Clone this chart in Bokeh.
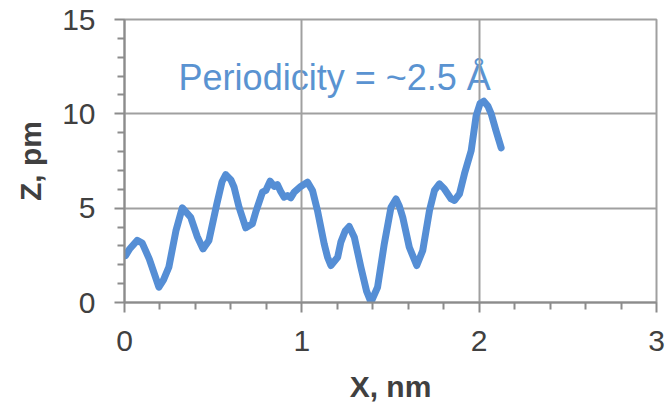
from bokeh.plotting import figure
from bokeh.models import FixedTicker, Range1d, ColumnDataSource
from bokeh.core.properties import value
from bokeh.embed import file_html
from bokeh.resources import INLINE

# Height profile along the scan line
x_nm = [0.006, 0.03, 0.072, 0.10, 0.14, 0.194, 0.22, 0.25, 0.29, 0.326,
        0.373, 0.41, 0.443, 0.476, 0.52, 0.55, 0.571, 0.60, 0.618, 0.646,
        0.684, 0.721, 0.740, 0.778, 0.797, 0.821, 0.844, 0.862, 0.880, 0.900,
        0.919, 0.938, 0.957, 0.994, 1.032, 1.06, 1.088, 1.126, 1.145, 1.164,
        1.202, 1.220, 1.245, 1.267, 1.296, 1.333, 1.365, 1.390, 1.427, 1.465,
        1.503, 1.531, 1.550, 1.569, 1.606, 1.648, 1.682, 1.720, 1.748, 1.776,
        1.804, 1.842, 1.861, 1.889, 1.917, 1.955, 1.983, 2.005, 2.026, 2.050,
        2.068, 2.095, 2.124]
z_pm = [2.49, 2.85, 3.29, 3.15, 2.3, 0.81, 1.2, 1.87, 3.8, 5.02,
        4.52, 3.5, 2.84, 3.29, 5.2, 6.4, 6.78, 6.5, 6.11, 5.05,
        3.96, 4.17, 4.79, 5.85, 5.94, 6.43, 6.15, 6.25, 5.9, 5.58,
        5.67, 5.55, 5.85, 6.15, 6.38, 5.94, 4.88, 3.11, 2.4, 1.96,
        2.40, 3.2, 3.8, 4.03, 3.46, 1.87, 0.6, 0.02, 0.81, 3.11,
        5.05, 5.49, 5.1, 4.52, 2.93, 1.96, 2.76, 4.88, 5.94, 6.29,
        6.02, 5.49, 5.41, 5.76, 6.82, 8.05, 9.9, 10.55, 10.67, 10.4,
        10.0, 9.1, 8.2]

x_ticks = [0, 1, 2, 3]
x_minor = [0.2, 0.4, 0.6, 0.8, 1.2, 1.4, 1.6, 1.8, 2.2, 2.4, 2.6, 2.8]
y_ticks = [0, 5, 10, 15]
y_minor = [1, 2, 3, 4, 6, 7, 8, 9, 11, 12, 13, 14]

note_text = ["Periodicity = ~2.5 Å"]
note_x = [0.305]
note_y = [11.92]

FONT = "Liberation Sans"
GRID = "#a0a0a0"
AXIS = "#8c8c8c"
LABEL = "#404040"

p = figure(width=671, height=405, output_backend="svg", toolbar_location=None,
           x_range=Range1d(0, 3), y_range=Range1d(0, 15),
           min_border_left=124, min_border_right=15,
           min_border_top=19, min_border_bottom=103)
p.background_fill_color = "white"
p.border_fill_color = "white"
p.outline_line_color = GRID
p.outline_line_width = 2

p.xaxis.ticker = FixedTicker(ticks=x_ticks, minor_ticks=x_minor)
p.yaxis.ticker = FixedTicker(ticks=y_ticks, minor_ticks=y_minor)

for ax in (p.xaxis[0], p.yaxis[0]):
    ax.axis_line_color = AXIS
    ax.axis_line_width = 2
    ax.major_tick_line_color = AXIS
    ax.major_tick_line_width = 2
    ax.minor_tick_line_color = AXIS
    ax.minor_tick_line_width = 2
    ax.major_tick_in = 0
    ax.major_tick_out = 10
    ax.minor_tick_in = 0
    ax.minor_tick_out = 7
    ax.major_label_text_font = FONT
    ax.major_label_text_font_size = "30px"
    ax.major_label_text_color = LABEL
    ax.axis_label_text_font = FONT
    ax.axis_label_text_font_size = "30px"
    ax.axis_label_text_font_style = "bold"
    ax.axis_label_text_color = LABEL

p.xaxis.axis_label = "X, nm"
p.yaxis.axis_label = "Z, pm"
p.xaxis.major_label_standoff = 18
p.yaxis.major_label_standoff = 19
p.xaxis.axis_label_standoff = 16
p.yaxis.axis_label_standoff = 12

p.xgrid.ticker = FixedTicker(ticks=x_ticks)
p.ygrid.ticker = FixedTicker(ticks=y_ticks)
for g in (p.xgrid[0], p.ygrid[0]):
    g.grid_line_color = GRID
    g.grid_line_width = 2

# Annotation sits beneath the grid lines
note_src = ColumnDataSource(dict(x=note_x, y=note_y, text=note_text))
note = p.text(x="x", y="y", text="text", source=note_src,
              text_font=value(FONT), text_font_size="36px",
              text_color="#5a93d1", text_align="left",
              text_baseline="alphabetic")
note.level = "image"

p.line(x_nm, z_pm, line_color="#558ed5", line_width=7,
       line_join="round", line_cap="round")

open("out.html", "w").write(file_html(p, INLINE))
